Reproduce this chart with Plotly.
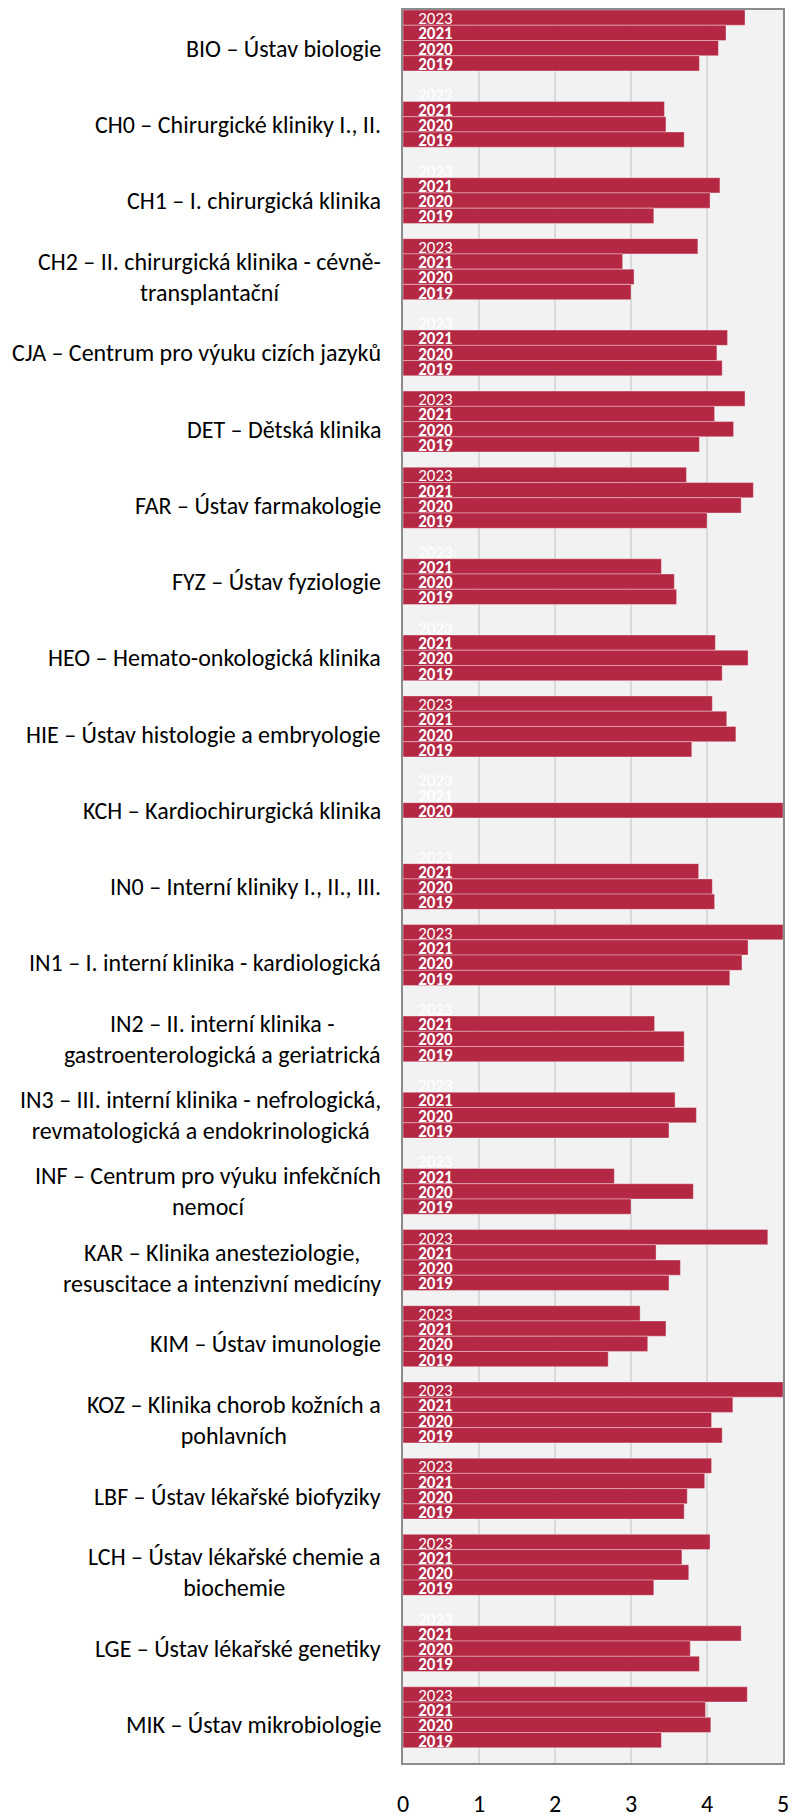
import plotly.graph_objects as go

departments = [
    "BIO – Ústav biologie",
    "CH0 – Chirurgické kliniky I., II.",
    "CH1 – I. chirurgická klinika",
    "CH2 – II. chirurgická klinika - cévně-<br>transplantační",
    "CJA – Centrum pro výuku cizích jazyků",
    "DET – Dětská klinika",
    "FAR – Ústav farmakologie",
    "FYZ – Ústav fyziologie",
    "HEO – Hemato-onkologická klinika",
    "HIE – Ústav histologie a embryologie",
    "KCH – Kardiochirurgická klinika",
    "IN0 – Interní kliniky I., II., III.",
    "IN1 – I. interní klinika - kardiologická",
    "IN2 – II. interní klinika -<br>gastroenterologická a geriatrická",
    "IN3 – III. interní klinika - nefrologická,<br>revmatologická a endokrinologická",
    "INF – Centrum pro výuku infekčních<br>nemocí",
    "KAR – Klinika anesteziologie,<br>resuscitace a intenzivní medicíny",
    "KIM – Ústav imunologie",
    "KOZ – Klinika chorob kožních a<br>pohlavních",
    "LBF – Ústav lékařské biofyziky",
    "LCH – Ústav lékařské chemie a<br>biochemie",
    "LGE – Ústav lékařské genetiky",
    "MIK – Ústav mikrobiologie",
]

years = ["2023", "2021", "2020", "2019"]

v2023 = [4.50, None, None, 3.88, None, 4.50, 3.73, None, None, 4.07, None, None,
         5.00, None, None, None, 4.80, 3.12, 5.00, 4.06, 4.04, None, 4.53]
v2021 = [4.25, 3.44, 4.17, 2.89, 4.27, 4.10, 4.61, 3.40, 4.11, 4.26, None, 3.89,
         4.54, 3.31, 3.58, 2.78, 3.33, 3.46, 4.34, 3.97, 3.67, 4.45, 3.98]
v2020 = [4.15, 3.46, 4.04, 3.04, 4.13, 4.35, 4.45, 3.57, 4.54, 4.38, 5.00, 4.07,
         4.46, 3.70, 3.86, 3.82, 3.65, 3.22, 4.06, 3.74, 3.76, 3.78, 4.05]
v2019 = [3.90, 3.70, 3.30, 3.00, 4.20, 3.90, 4.00, 3.60, 4.20, 3.80, None, 4.10,
         4.30, 3.70, 3.50, 3.00, 3.50, 2.70, 4.20, 3.70, 3.30, 3.90, 3.40]

series = [v2023, v2021, v2020, v2019]

x_ticks = [0, 1, 2, 3, 4, 5]

SLOTS = 5  # 4 bars + 1 gap per department
BAR_COLOR = "#B52844"
FONT = "Carlito, Lato, sans-serif"

fig = go.Figure()

for j, (yr, vals) in enumerate(zip(years, series)):
    fig.add_trace(go.Bar(
        orientation="h",
        x=vals,
        y=[g * SLOTS + j for g in range(len(departments))],
        width=1,
        marker=dict(color=BAR_COLOR, line=dict(color="rgba(255,255,255,0.35)", width=1)),
        name=yr,
        showlegend=False,
        hoverinfo="x+name",
    ))

# year labels (shown even where a 2023/2021 bar is missing, as in the source)
lab_y, lab_t = [], []
for g in range(len(departments)):
    for j, (yr, vals) in enumerate(zip(years, series)):
        if yr == "2019" and vals[g] is None:
            continue
        lab_y.append(g * SLOTS + j + 0.15)
        lab_t.append(yr if yr == "2023" else "<b>" + yr + "</b>")
fig.add_trace(go.Scatter(
    x=[0.2] * len(lab_y), y=lab_y, mode="text", text=lab_t,
    textposition="middle right",
    textfont=dict(color="white", size=17, family=FONT),
    showlegend=False, hoverinfo="skip", cliponaxis=False,
))

for g, name in enumerate(departments):
    fig.add_annotation(
        x=0, xref="paper", y=g * SLOTS + 2, yref="y",
        text=name, showarrow=False, xanchor="right", yanchor="middle",
        align="center", xshift=-20,
        font=dict(size=24, color="#000000", family=FONT),
    )

n_slots = len(departments) * SLOTS
# the page body adds an 8px offset, so the figure is 8px smaller than the window
fig.update_layout(
    width=795, height=1810,
    margin=dict(l=395, r=20, t=0, b=41),
    paper_bgcolor="white",
    plot_bgcolor="#F2F2F2",
    barmode="overlay",
    font=dict(family=FONT, color="#000000"),
)
fig.update_xaxes(
    range=[0, 5], tickvals=x_ticks, ticktext=[str(t) for t in x_ticks],
    showgrid=True, gridcolor="#D9D9D9", gridwidth=2,
    showline=True, linecolor="#8C8C8C", linewidth=2, mirror=True,
    zeroline=False, ticks="", tickfont=dict(size=24, family=FONT),
    ticklabelstandoff=18,
)
fig.update_yaxes(
    range=[n_slots - 0.5, -0.5], showticklabels=False, showgrid=False,
    showline=True, linecolor="#8C8C8C", linewidth=2, mirror=True,
    zeroline=False, ticks="",
)

fig.write_html("out.html")
